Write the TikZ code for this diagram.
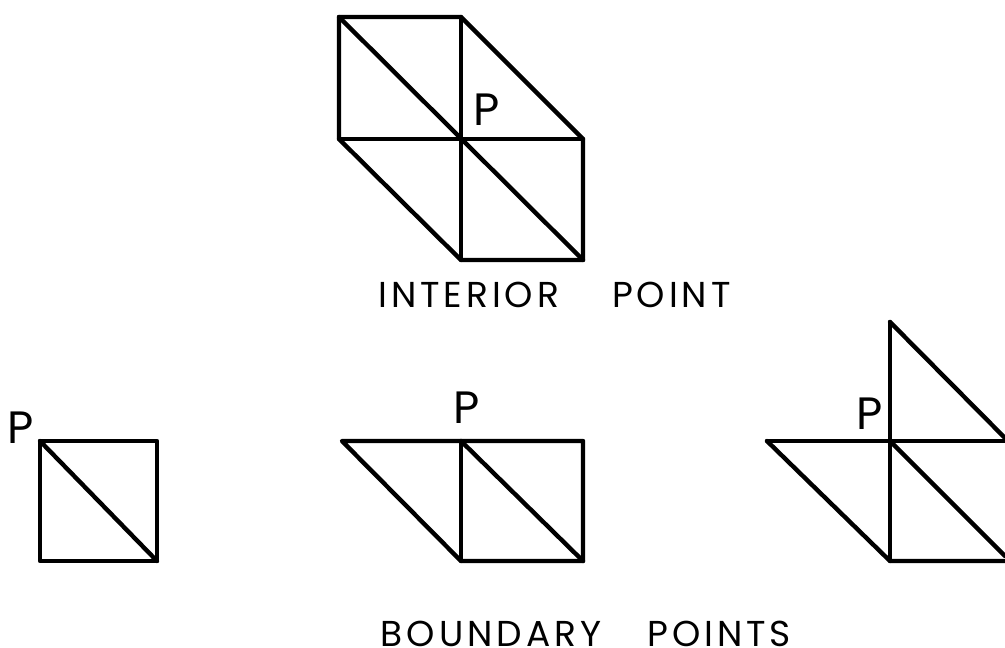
\documentclass[tikz,border=0pt]{standalone}
\usepackage{fontspec}
\setmainfont{Poppins}[LetterSpace=11]
\newfontfamily\plab{Poppins}
\tikzset{mesh/.style={line width=3.3pt,line cap=round,line join=round,black},
lab/.style={inner sep=0pt,font=\plab\fontsize{34}{34}\selectfont},
captext/.style={inner sep=0pt,font=\fontsize{27}{28}\selectfont}}
\begin{document}
\begin{tikzpicture}[x=0.75pt,y=-0.75pt]
\useasboundingbox (0,0) rectangle (1005,648);
% interior
\draw[mesh] (339,17) -- (461,17) -- (583,139) -- (583,260) -- (461,260) -- (339,139) -- cycle;
\draw[mesh] (461,17) -- (461,260);
\draw[mesh] (339,139) -- (583,139);
\draw[mesh] (339,17) -- (583,260);
\node[lab] (p1) at (486.5,110) {P};
\node[captext] (c1) at (554.5,295) {INTERIOR\hspace{39.75pt}POINT};
% b1
\draw[mesh] (40,441) -- (157,441) -- (157,561) -- (40,561) -- cycle;
\draw[mesh] (40,441) -- (157,561);
\node[lab] (p2) at (21,428) {P};
% b2
\draw[mesh] (342,441) -- (583,441) -- (583,561) -- (461,561) -- cycle;
\draw[mesh] (461,441) -- (461,561);
\draw[mesh] (461,441) -- (583,561);
\node[lab] (p3) at (467,408) {P};
% b3
\draw[mesh] (767,441) -- (1005,441);
\draw[mesh] (767,441) -- (890,561) -- (1005,561);
\draw[mesh] (890,322) -- (890,561);
\draw[mesh] (890,322) -- (1005,438);
\draw[mesh] (890,441) -- (1005,556);
\node[lab] (p4) at (870,414) {P};
\node[captext] (c2) at (586,634) {BOUNDARY\hspace{34.5pt}POINTS};
\end{tikzpicture}
\end{document}
